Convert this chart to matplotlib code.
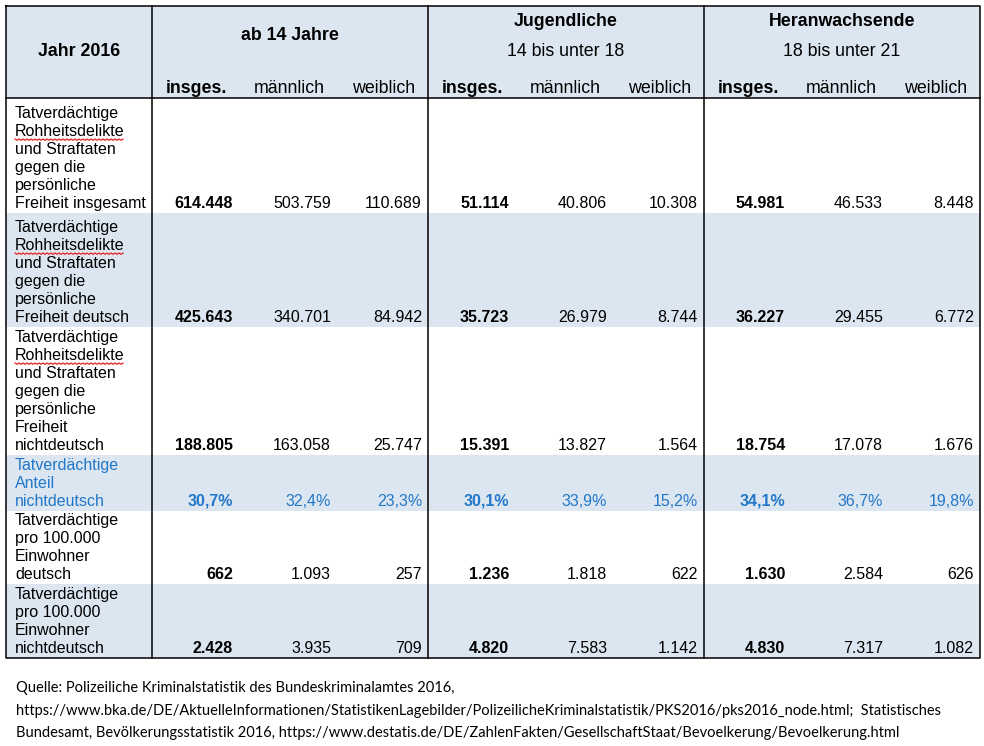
import matplotlib
matplotlib.use("Agg")
import matplotlib.pyplot as plt
from matplotlib.patches import Rectangle
import numpy as np

# ---------------- data ----------------
year_label = "Jahr 2016"
group_titles = [["ab 14 Jahre"], ["Jugendliche", "14 bis unter 18"], ["Heranwachsende", "18 bis unter 21"]]
sub_headers = ["insges.", "männlich", "weiblich"]

row_labels = [
    ["Tatverdächtige", "Rohheitsdelikte", "und Straftaten", "gegen die", "persönliche", "Freiheit insgesamt"],
    ["Tatverdächtige", "Rohheitsdelikte", "und Straftaten", "gegen die", "persönliche", "Freiheit deutsch"],
    ["Tatverdächtige", "Rohheitsdelikte", "und Straftaten", "gegen die", "persönliche", "Freiheit", "nichtdeutsch"],
    ["Tatverdächtige", "Anteil", "nichtdeutsch"],
    ["Tatverdächtige", "pro 100.000", "Einwohner", "deutsch"],
    ["Tatverdächtige", "pro 100.000", "Einwohner", "nichtdeutsch"],
]
percent_row = 3

ab14_total = [614448, 425643, 188805, 30.7, 662, 2428]
ab14_m     = [503759, 340701, 163058, 32.4, 1093, 3935]
ab14_w     = [110689, 84942, 25747, 23.3, 257, 709]
jug_total  = [51114, 35723, 15391, 30.1, 1236, 4820]
jug_m      = [40806, 26979, 13827, 33.9, 1818, 7583]
jug_w      = [10308, 8744, 1564, 15.2, 622, 1142]
her_total  = [54981, 36227, 18754, 34.1, 1630, 4830]
her_m      = [46533, 29455, 17078, 36.7, 2584, 7317]
her_w      = [8448, 6772, 1676, 19.8, 626, 1082]

groups = [[ab14_total, ab14_m, ab14_w],
          [jug_total, jug_m, jug_w],
          [her_total, her_m, her_w]]

footer_lines = [
    "Quelle: Polizeiliche Kriminalstatistik des Bundeskriminalamtes 2016,",
    "https://www.bka.de/DE/AktuelleInformationen/StatistikenLagebilder/PolizeilicheKriminalstatistik/PKS2016/pks2016_node.html;  Statistisches",
    "Bundesamt, Bevölkerungsstatistik 2016, https://www.destatis.de/DE/ZahlenFakten/GesellschaftStaat/Bevoelkerung/Bevoelkerung.html",
]

# ---------------- style / layout ----------------
W, H = 984, 746
BLUE_BG = "#dce6f1"
BLUE_TXT = "#2277c8"
FONT = "Liberation Sans"
FS = 11.5
HFS = 12.8
LW = 1.1

left, right, top, bottom = 6, 980, 6, 658
group_x = [152, 428, 704]
header_bottom = 98
row_bounds = [98, 213, 327, 455, 511, 584, 658]
line_step = 18

def fmt(v, pct):
    if pct:
        return ("%.1f" % v).replace(".", ",") + "%"
    return "{:,}".format(int(v)).replace(",", ".")

fig = plt.figure(figsize=(W / 100, H / 100), dpi=100)
ax = fig.add_axes([0, 0, 1, 1])
ax.set_xlim(0, W)
ax.set_ylim(H, 0)
ax.axis("off")

# backgrounds
ax.add_patch(Rectangle((left, top), right - left, header_bottom - top, facecolor=BLUE_BG, edgecolor="none", zorder=0))
for i in range(len(row_labels)):
    if i % 2 == 1:
        y0, y1 = row_bounds[i], row_bounds[i + 1]
        ax.add_patch(Rectangle((left, y0), right - left, y1 - y0, facecolor=BLUE_BG, edgecolor="none", zorder=0))

# grid lines
ax.plot([left, right, right, left, left], [top, top, bottom, bottom, top], color="black", lw=LW, zorder=3, solid_capstyle="projecting")
for gx in group_x:
    ax.plot([gx, gx], [top, bottom], color="black", lw=LW, zorder=3)
ax.plot([left, right], [header_bottom, header_bottom], color="black", lw=LW, zorder=3)

# header text
ax.text(79, 52, year_label, ha="center", va="center", fontsize=HFS, fontweight="bold", family=FONT)
for gi, gx in enumerate(group_x):
    titles = group_titles[gi]
    cx = gx + 138
    if len(titles) == 1:
        ax.text(cx, 36, titles[0], ha="center", va="center", fontsize=HFS, fontweight="bold", family=FONT)
    else:
        ax.text(cx, 21, titles[0], ha="center", va="center", fontsize=HFS, fontweight="bold", family=FONT)
        ax.text(cx, 52, titles[1], ha="center", va="center", fontsize=HFS, family=FONT)
    for si, (off, lab) in enumerate(zip([44, 137, 232], sub_headers)):
        ax.text(gx + off, 93, lab, ha="center", va="baseline", fontsize=HFS,
                fontweight="bold" if si == 0 else "normal", family=FONT)

fig.canvas.draw()
renderer = fig.canvas.get_renderer()
inv = ax.transData.inverted()

# rows
for ri, lines in enumerate(row_labels):
    yb = row_bounds[ri + 1] - 5
    color = BLUE_TXT if ri == percent_row else "black"
    n = len(lines)
    for li, txt in enumerate(lines):
        y = yb - (n - 1 - li) * line_step
        t = ax.text(15, y, txt, ha="left", va="baseline", fontsize=FS, family=FONT, color=color)
        if txt == "Rohheitsdelikte":
            bb = t.get_window_extent(renderer)
            (x0, _), (x1, _) = inv.transform([(bb.x0, 0), (bb.x1, 0)])
            xs = np.arange(x0, x1, 2.0)
            ys = y + 3 + np.where(np.arange(len(xs)) % 2 == 0, 0, 1.3)
            ax.plot(xs, ys, color="#e8201c", lw=0.9, zorder=2)
    for gi, gx in enumerate(group_x):
        for si, off in enumerate([81, 179, 270]):
            v = groups[gi][si][ri]
            ax.text(gx + off, yb, fmt(v, ri == percent_row), ha="right", va="baseline",
                    fontsize=FS, family=FONT, color=color,
                    fontweight="bold" if si == 0 else "normal")

# footer
FFONT = "Lato"
ffs = 10.0
probe = ax.text(16, 715, footer_lines[1], fontsize=ffs, family=FFONT)
bb = probe.get_window_extent(renderer)
ffs = ffs * 919.0 / bb.width
probe.remove()
for i, txt in enumerate(footer_lines):
    ax.text(16, 692 + i * 22.5, txt, ha="left", va="baseline", fontsize=ffs, family=FFONT, color="black")

fig.savefig("out.png", dpi=100)
